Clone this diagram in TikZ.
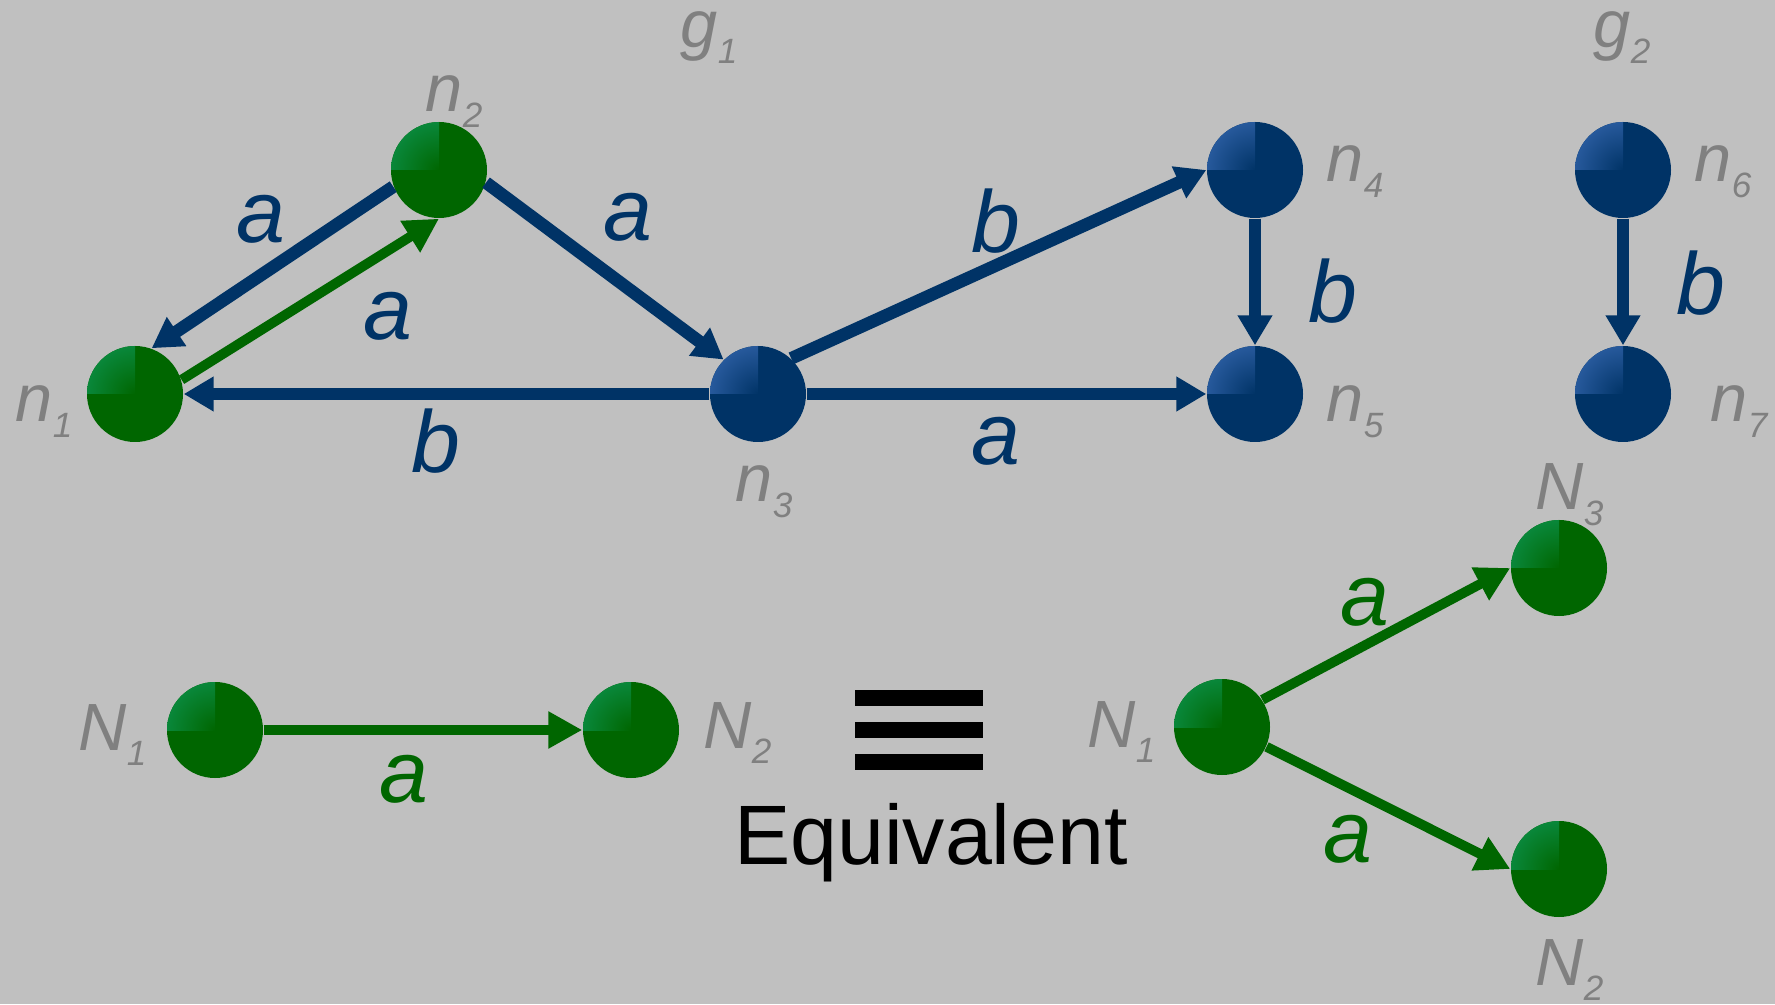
\documentclass[tikz,border=0pt]{standalone}
\usepackage{fontspec}
\setsansfont{Liberation Sans}
\usetikzlibrary{arrows.meta}
\definecolor{cbg}{HTML}{C0C0C0}
\definecolor{cnavy}{HTML}{003366}
\definecolor{cnavyhl}{HTML}{4D7FD1}
\definecolor{cgreen}{HTML}{006600}
\definecolor{cgreenhl}{HTML}{12A874}
\definecolor{cgray}{HTML}{808080}
\newcommand{\nsub}[2]{#1\raisebox{-4.5pt}{\fontsize{10}{10}\selectfont #2}}

\begin{document}
\begin{tikzpicture}[
  ball/.style 2 args={
    circle, fill=#1, minimum size=0.96cm, inner sep=0pt,
    path picture={
      \clip (path picture bounding box.center) rectangle (path picture bounding box.north west);
      \shade[inner color=#1, outer color=#2]
        ([shift={(-0.96,-0.96)}]path picture bounding box.center) rectangle
        ([shift={(0.96,0.96)}]path picture bounding box.center);
    }
  },
  bnode/.style={ball={cnavy}{cnavyhl}},
  gnode/.style={ball={cgreen}{cgreenhl}},
  barrow/.style={-{Triangle[length=3mm, width=3.3mm]}, draw=cnavy, line width=3.6pt},
  garrow/.style={-{Triangle[length=3.4mm, width=3.5mm]}, draw=cgreen, line width=2.8pt},
  elabel/.style={font=\sffamily\itshape\fontsize{25}{25}\selectfont, inner sep=0pt},
  nlabel/.style={cgray, font=\sffamily\itshape\fontsize{19}{19}\selectfont, anchor=base west, inner sep=0pt},
  font=\sffamily
]
\fill[cbg] (0,0) rectangle (17.75,10.04);
\useasboundingbox (0,0) rectangle (17.75,10.04);

% ============================================================
% Top: graphs g_1 and g_2
\node[nlabel] (lg1) at (6.80, 9.56) {\nsub{g}{1}};
\node[nlabel] (lg2) at (15.93, 9.56) {\nsub{g}{2}};

\node[gnode] (n1) at (1.35, 6.10) {};
\node[gnode] (n2) at (4.39, 8.34) {};
\node[bnode] (n3) at (7.58, 6.10) {};
\node[bnode] (n4) at (12.55, 8.34) {};
\node[bnode] (n5) at (12.55, 6.10) {};
\node[bnode] (n6) at (16.23, 8.34) {};
\node[bnode] (n7) at (16.23, 6.10) {};

\node[nlabel] (ln1) at (0.15, 5.82) {\nsub{n}{1}};
\node[nlabel] (ln2) at (4.25, 8.92) {\nsub{n}{2}};
\node[nlabel] (ln3) at (7.35, 5.02) {\nsub{n}{3}};
\node[nlabel] (ln4) at (13.26, 8.22) {\nsub{n}{4}};
\node[nlabel] (ln5) at (13.26, 5.82) {\nsub{n}{5}};
\node[nlabel] (ln6) at (16.94, 8.22) {\nsub{n}{6}};
\node[nlabel] (ln7) at (17.10, 5.82) {\nsub{n}{7}};

% Edges of g_1 and g_2
\draw[barrow] (n2.200) -- (n1.70);
\draw[garrow] (n1.17) -- (n2.270);
\draw[barrow] (n2.345) -- (n3.135);
\draw[barrow] (n3) -- (n1);
\draw[barrow] (n3.47) -- (n4.west);
\draw[barrow] (n3) -- (n5);
\draw[barrow] (n4) -- (n5);
\draw[barrow] (n6) -- (n7);

\node[elabel, cnavy] (e21) at (2.61, 7.85) {a};
\node[elabel, cnavy] (e12) at (3.88, 6.88) {a};
\node[elabel, cnavy] (e23) at (6.28, 7.87) {a};
\node[elabel, cnavy] (e31) at (4.36, 5.63) {b};
\node[elabel, cnavy] (e34) at (9.96, 7.83) {b};
\node[elabel, cnavy] (e35) at (9.96, 5.63) {a};
\node[elabel, cnavy] (e45) at (13.33, 7.13) {b};
\node[elabel, cnavy] (e67) at (17.01, 7.21) {b};

% ============================================================
% Bottom: one a-edge versus two a-edges
\node[gnode] (A1) at (2.15, 2.74) {};
\node[gnode] (A2) at (6.31, 2.74) {};
\node[gnode] (B1) at (12.22, 2.77) {};
\node[gnode] (B3) at (15.59, 4.36) {};
\node[gnode] (B2) at (15.59, 1.35) {};

\node[nlabel] (lA1) at (0.78, 2.54) {\nsub{N}{1}};
\node[nlabel] (lA2) at (7.03, 2.56) {\nsub{N}{2}};
\node[nlabel] (lB1) at (10.87, 2.57) {\nsub{N}{1}};
\node[nlabel] (lB3) at (15.35, 4.94) {\nsub{N}{3}};
\node[nlabel] (lB2) at (15.35, 0.19) {\nsub{N}{2}};

\draw[garrow] (A1) -- (A2);
\draw[garrow] (B1.34) -- (B3.west);
\draw[garrow] (B1.336) -- (B2.west);

\node[elabel, cgreen] (eA) at (4.04, 2.25) {a};
\node[elabel, cgreen] (eB3) at (13.65, 4.02) {a};
\node[elabel, cgreen] (eB2) at (13.48, 1.65) {a};

% Equivalence sign
\foreach \y in {3.06, 2.74, 2.425}
  \fill[black] (8.55, \y-0.08) rectangle (9.83, \y+0.08);
\node[font=\sffamily\fontsize{24}{24}\selectfont, anchor=base, inner sep=0pt] (equiv) at (9.31, 1.40) {Equivalent};

\end{tikzpicture}
\end{document}
